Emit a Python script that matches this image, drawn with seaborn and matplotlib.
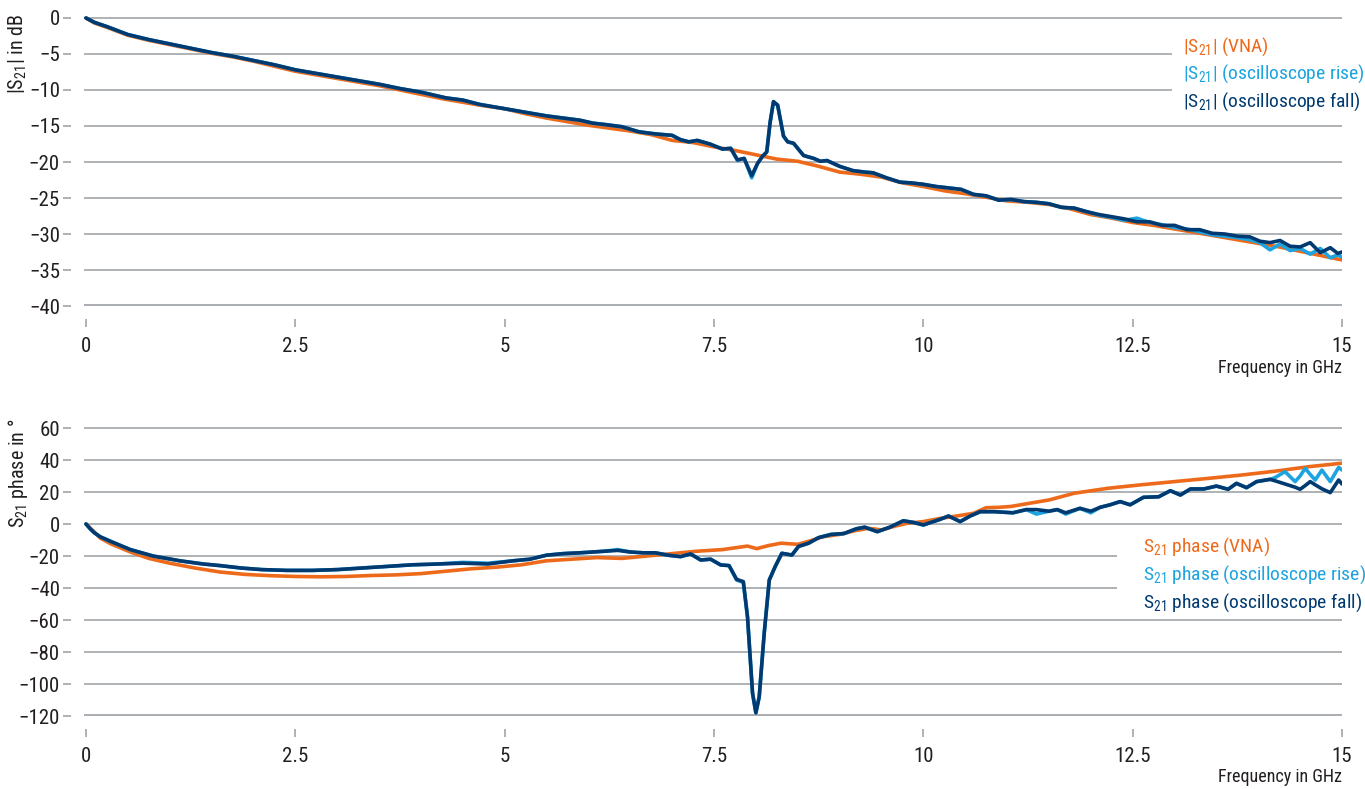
import pandas as pd
import matplotlib.pyplot as plt
import seaborn as sns
from matplotlib import font_manager
from matplotlib.patches import Rectangle

# |S21| magnitude, VNA
vna_mag_f = [0, 0.1, 0.25, 0.5, 0.75, 1.0, 1.25, 1.5, 1.75, 2.0, 2.25, 2.5, 2.75, 3.0, 3.25, 3.5,
             3.75, 4.0, 4.25, 4.5, 4.75, 5.0, 5.25, 5.5, 5.75, 6.0, 6.25, 6.5, 6.75, 7.0, 7.25, 7.5,
             7.75, 8.0, 8.25, 8.5, 8.75, 9.0, 9.25, 9.5, 9.75, 10.0, 10.25, 10.5, 10.75, 11.0, 11.25,
             11.5, 11.75, 12.0, 12.25, 12.5, 12.75, 13.0, 13.25, 13.5, 13.75, 14.0, 14.25, 14.5, 14.75, 15.0]
vna_mag = [0, -0.7, -1.3, -2.4, -3.1, -3.7, -4.3, -4.9, -5.4, -6.0, -6.7, -7.4, -7.9, -8.4, -8.9, -9.4,
           -10.0, -10.6, -11.2, -11.7, -12.2, -12.6, -13.3, -13.9, -14.4, -14.9, -15.3, -15.7, -16.2, -17.0, -17.3, -17.9,
           -18.4, -19.0, -19.6, -19.9, -20.6, -21.4, -21.7, -22.1, -22.9, -23.4, -24.0, -24.4, -24.9, -25.4, -25.6,
           -25.9, -26.5, -27.3, -27.8, -28.4, -28.8, -29.3, -29.8, -30.3, -30.8, -31.3, -31.8, -32.4, -33.0, -33.6]

# |S21| magnitude, oscilloscope (rise / fall share the frequency grid)
osc_mag_f = [0, 0.1, 0.25, 0.5, 0.75, 1.0, 1.25, 1.5, 1.75, 2.0, 2.25, 2.5, 2.75, 3.0, 3.25, 3.5, 3.75, 4.0,
             4.15, 4.3, 4.5, 4.7, 4.9, 5.1, 5.3, 5.5, 5.7, 5.9, 6.05, 6.2, 6.4, 6.6, 6.8, 7.0, 7.1, 7.2, 7.3,
             7.45, 7.6, 7.7, 7.78, 7.86, 7.95, 8.02, 8.08, 8.13, 8.17, 8.21, 8.26, 8.33, 8.38, 8.45, 8.57, 8.69,
             8.77, 8.85, 9.0, 9.16, 9.3, 9.4, 9.56, 9.72, 9.85, 10.0, 10.15, 10.3, 10.45, 10.6, 10.75, 10.9,
             11.05, 11.2, 11.35, 11.5, 11.65, 11.8, 11.95, 12.1, 12.25, 12.4, 12.55, 12.7, 12.85, 13.0, 13.15,
             13.3, 13.45, 13.6, 13.75, 13.9, 14.02, 14.14, 14.26, 14.38, 14.5, 14.62, 14.74, 14.86, 14.95, 15.0]
fall_mag = [0, -0.6, -1.2, -2.3, -3.0, -3.6, -4.2, -4.8, -5.3, -5.9, -6.5, -7.2, -7.7, -8.2, -8.7, -9.2, -9.8, -10.3,
            -10.7, -11.1, -11.4, -12.0, -12.4, -12.8, -13.2, -13.6, -13.9, -14.2, -14.6, -14.8, -15.1, -15.8, -16.1, -16.3, -16.9, -17.2, -17.0,
            -17.5, -18.2, -18.1, -19.7, -19.5, -21.9, -20.2, -19.2, -18.6, -14.5, -11.6, -12.1, -16.4, -17.2, -17.4, -19.1, -19.5,
            -19.9, -19.8, -20.6, -21.2, -21.4, -21.5, -22.2, -22.8, -22.9, -23.1, -23.4, -23.6, -23.8, -24.5, -24.7, -25.3,
            -25.2, -25.5, -25.6, -25.8, -26.3, -26.4, -26.9, -27.3, -27.6, -27.9, -28.3, -28.3, -28.8, -28.8, -29.4,
            -29.4, -29.9, -30.0, -30.3, -30.4, -31.0, -31.2, -30.9, -31.7, -31.8, -31.2, -32.6, -31.9, -32.7, -32.5]
rise_mag = [0, -0.6, -1.2, -2.3, -3.0, -3.6, -4.2, -4.8, -5.3, -5.9, -6.5, -7.2, -7.7, -8.2, -8.7, -9.2, -9.8, -10.3,
            -10.7, -11.1, -11.4, -12.0, -12.4, -12.8, -13.2, -13.6, -13.9, -14.2, -14.6, -14.8, -15.1, -15.8, -16.1, -16.3, -16.9, -17.2, -17.0,
            -17.5, -18.2, -18.1, -19.8, -19.5, -22.2, -20.2, -19.2, -18.6, -14.5, -11.7, -12.1, -16.4, -17.2, -17.4, -19.1, -19.5,
            -19.9, -19.8, -20.6, -21.2, -21.4, -21.5, -22.2, -22.8, -22.9, -23.1, -23.4, -23.6, -23.8, -24.5, -24.7, -25.3,
            -25.2, -25.5, -25.6, -25.8, -26.3, -26.4, -26.9, -27.4, -27.7, -28.1, -27.8, -28.4, -28.7, -29.1, -29.3,
            -29.7, -30.1, -30.3, -30.5, -30.8, -31.2, -32.2, -31.4, -32.3, -32.0, -32.8, -32.0, -33.3, -32.9, -33.2]

# S21 phase, VNA
vna_ph_f = [0, 0.08, 0.17, 0.3, 0.53, 0.75, 1.0, 1.3, 1.6, 1.9, 2.2, 2.5, 2.8, 3.1, 3.4, 3.7, 4.0, 4.3, 4.6, 4.9,
            5.2, 5.5, 5.8, 6.1, 6.4, 6.7, 7.0, 7.3, 7.6, 7.9, 8.01, 8.15, 8.3, 8.5, 8.65, 8.8, 9.0, 9.2, 9.35, 9.5,
            9.65, 9.8, 10.0, 10.2, 10.4, 10.6, 10.75, 10.9, 11.05, 11.25, 11.5, 11.8, 12.2, 12.6, 13.0, 13.4, 13.8, 14.2, 14.6, 15.0]
vna_ph = [0, -4, -8.8, -12.5, -17.5, -21.5, -24.5, -27.5, -30, -31.5, -32.3, -32.8, -33, -32.8, -32.2, -31.8, -31, -29.5, -28, -27,
          -25.5, -23, -22, -21, -21.5, -20, -18.5, -17, -16, -13.8, -15.4, -13.5, -12, -12.7, -10.5, -8, -6.5, -4, -2.7, -3.7,
          -1.5, 0.4, 1.5, 3.5, 5, 6.7, 10.2, 10.4, 11, 12.8, 15, 19.2, 22.3, 24.5, 26.5, 28.5, 30.6, 33, 35.8, 38]

# S21 phase, oscilloscope
osc_ph_f = [0, 0.05, 0.1, 0.17, 0.3, 0.53, 0.8, 1.12, 1.4, 1.6, 1.85, 2.1, 2.4, 2.7, 3.0, 3.3, 3.6, 3.9, 4.2, 4.5,
            4.8, 5.1, 5.3, 5.5, 5.7, 5.9, 6.05, 6.2, 6.35, 6.5, 6.65, 6.8, 6.95, 7.1, 7.22, 7.34, 7.46, 7.58, 7.68, 7.77,
            7.85, 7.9, 7.96, 8.0, 8.04, 8.1, 8.16, 8.23, 8.31, 8.43, 8.51, 8.63, 8.75, 8.9, 9.05, 9.2, 9.3, 9.45, 9.6, 9.76,
            9.88, 10.0, 10.2, 10.3, 10.44, 10.56, 10.68, 10.85, 11.07, 11.23, 11.35, 11.5, 11.6, 11.7, 11.87, 12.0, 12.11, 12.23, 12.35, 12.47,
            12.63, 12.81, 12.95, 13.07, 13.19, 13.35, 13.5, 13.64, 13.74, 13.86, 13.98, 14.14, 14.2, 14.32, 14.44, 14.5, 14.56, 14.62, 14.68, 14.76,
            14.86, 14.96, 15.0]
fall_ph = [0, -3, -5.5, -8, -11, -16, -20, -23, -25, -26, -27.5, -28.5, -29, -29, -28.5, -27.5, -26.5, -25.5, -25, -24.5,
           -25, -23, -22, -19.5, -18.5, -18, -17.5, -17, -16.5, -17.5, -18, -18, -19.5, -20.4, -18.7, -22.5, -22, -25.6, -26, -34.6,
           -36, -58, -105.7, -118, -108, -68, -35, -26.7, -18.3, -19.4, -14, -12, -8.5, -6.5, -6, -3, -2, -4.8, -2, 2,
           1, -0.6, 2.9, 5, 1.5, 5, 7.7, 7.7, 7, 9, 9, 8, 9, 7, 9.8, 8, 10.4, 12, 14, 12,
           16.7, 17, 20.8, 18.1, 21.9, 21.9, 23.7, 21.7, 25.4, 22.7, 26.5, 27.9, 27, 25, 23, 21.7, 24, 26.5, 24.5, 22,
           19.6, 27.5, 25]
rise_ph = [0, -3, -5.5, -8, -11, -16, -20, -23, -25, -26, -27.5, -28.5, -29, -29, -28.5, -27.5, -26.5, -25.5, -25, -24,
           -24.5, -23, -22, -19.5, -18.5, -18, -17.5, -17, -16, -17.5, -18, -18, -19.5, -20.4, -18.7, -22.5, -22, -25.6, -26, -35,
           -36.5, -58, -105.7, -118, -108, -68, -35, -26.7, -18.3, -19.4, -14, -12, -8.5, -6.5, -6, -3, -2, -4.8, -2, 2,
           1, -0.6, 2.9, 5, 1.5, 5, 7.7, 7.7, 7, 9, 6.2, 8, 9, 6.2, 9.8, 7, 10.4, 12, 14, 12,
           16.7, 17, 20.8, 18.1, 21.9, 21.9, 23.7, 21.7, 25.4, 22.7, 26.5, 27.9, 29, 32.7, 26.5, 30, 34.8, 31, 27.5, 33.7,
           26.5, 35.4, 33.7]

x_ticks = [0, 2.5, 5, 7.5, 10, 12.5, 15]
x_tick_labels = ['0', '2.5', '5', '7.5', '10', '12.5', '15']

ORANGE = '#EE6A1B'
LIGHT = '#1DA3E0'
DARK = '#003A70'
GRID = '#A9ACB0'
TEXT = '#231F20'
W, H = 1365, 789


def long_frame(parts):
    rows = []
    for name, f, v in parts:
        assert len(f) == len(v), name
        rows.append(pd.DataFrame({'freq': f, 'value': v, 'series': name}))
    return pd.concat(rows, ignore_index=True)


# pick the narrowest family that is installed
installed = {f.name for f in font_manager.fontManager.ttflist}
narrow = [f for f in ['Roboto Condensed', 'Liberation Sans Narrow', 'Open Sans Condensed',
                      'DejaVu Sans Condensed', 'Roboto', 'Liberation Sans'] if f in installed]
FONT = narrow[0] if narrow else 'DejaVu Sans'
condensed = FONT in ('Roboto Condensed', 'Liberation Sans Narrow', 'Open Sans Condensed', 'DejaVu Sans Condensed')
FS = 15 if condensed else 13.5
LFS = 14 if condensed else 12.5

sns.set_theme(style='white')
plt.rcParams['font.family'] = [FONT, 'DejaVu Sans']
plt.rcParams['mathtext.fontset'] = 'custom'
plt.rcParams['mathtext.rm'] = FONT
plt.rcParams['mathtext.it'] = FONT

palette = {'vna': ORANGE, 'rise': LIGHT, 'fall': DARK}
order = ['vna', 'rise', 'fall']

mag_df = long_frame([('vna', vna_mag_f, vna_mag), ('rise', osc_mag_f, rise_mag), ('fall', osc_mag_f, fall_mag)])
ph_df = long_frame([('vna', vna_ph_f, vna_ph), ('rise', osc_ph_f, rise_ph), ('fall', osc_ph_f, fall_ph)])

fig = plt.figure(figsize=(W / 100, H / 100), dpi=100)
left, right = 83.5, 1342
ax1 = fig.add_axes([left / W, (H - 306) / H, (right - left) / W, (306 - 14.4) / H])
ax2 = fig.add_axes([left / W, (H - 716) / H, (right - left) / W, (716 - 424.8) / H])

for ax, df, ylim, yticks in [(ax1, mag_df, (-40, 0.5), range(-40, 1, 5)),
                             (ax2, ph_df, (-120, 62), range(-120, 61, 20))]:
    sns.lineplot(data=df, x='freq', y='value', hue='series', hue_order=order, palette=palette,
                 estimator=None, sort=False, linewidth=2.6, legend=False, ax=ax)
    ax.set_xlim(-0.03, 15)
    ax.set_ylim(*ylim)
    ax.set_yticks(list(yticks))
    ax.set_yticklabels([str(t).replace('-', '\u2212') for t in yticks])
    ax.set_xticks(x_ticks)
    ax.set_xticklabels(x_tick_labels)
    ax.grid(axis='y', color=GRID, linewidth=1.3)
    ax.grid(axis='x', visible=False)
    ax.set_axisbelow(True)
    ax.axhline(ylim[0], color=GRID, linewidth=2.8, zorder=0.5)
    for s in ax.spines.values():
        s.set_visible(False)
    ax.spines['left'].set_position(('outward', 9))
    ax.spines['bottom'].set_position(('outward', 9))
    ax.tick_params(axis='y', left=True, length=6, width=1.3, color=GRID, pad=2, labelsize=FS, labelcolor=TEXT)
    ax.tick_params(axis='x', bottom=True, length=5.5, width=1.3, color=GRID, pad=8, labelsize=FS, labelcolor=TEXT)
    ax.set_xlabel('')
    ax.set_ylabel('')
    ax.patch.set_alpha(0)


def px(x, y):
    return x / W, 1 - y / H


# axis titles
fig.text(*px(18, 54), r'|S$_{\mathregular{21}}$| in dB', rotation=90, ha='center', va='center', fontsize=LFS + 0.5, color=TEXT)
fig.text(*px(18, 473), r'S$_{\mathregular{21}}$ phase in °', rotation=90, ha='center', va='center', fontsize=LFS + 0.5, color=TEXT)
fig.text(*px(1342, 373), 'Frequency in GHz', ha='right', va='baseline', fontsize=LFS - 1, color=TEXT)
fig.text(*px(1342, 782), 'Frequency in GHz', ha='right', va='baseline', fontsize=LFS - 1, color=TEXT)

# legend boxes (white, cut the grid lines) and coloured labels
fig.patches.append(Rectangle(px(1172, 115), (W - 1172) / W, 90 / H, transform=fig.transFigure,
                             facecolor='white', edgecolor='none', zorder=1))
fig.patches.append(Rectangle(px(1117, 614), (W - 1117) / W, 84 / H, transform=fig.transFigure,
                             facecolor='white', edgecolor='none', zorder=1))

mag_labels = [r'|S$_{\mathregular{21}}$| (VNA)', r'|S$_{\mathregular{21}}$| (oscilloscope rise)',
              r'|S$_{\mathregular{21}}$| (oscilloscope fall)']
ph_labels = [r'S$_{\mathregular{21}}$ phase (VNA)', r'S$_{\mathregular{21}}$ phase (oscilloscope rise)',
             r'S$_{\mathregular{21}}$ phase (oscilloscope fall)']
for i, (lab, key) in enumerate(zip(mag_labels, order)):
    fig.text(*px(1183, 51.5 + 27.5 * i), lab, ha='left', va='baseline', fontsize=LFS, color=palette[key], zorder=3)
for i, (lab, key) in enumerate(zip(ph_labels, order)):
    fig.text(*px(1143, 551.5 + 28.2 * i), lab, ha='left', va='baseline', fontsize=LFS, color=palette[key], zorder=3)

fig.savefig('out.png', dpi=100)
